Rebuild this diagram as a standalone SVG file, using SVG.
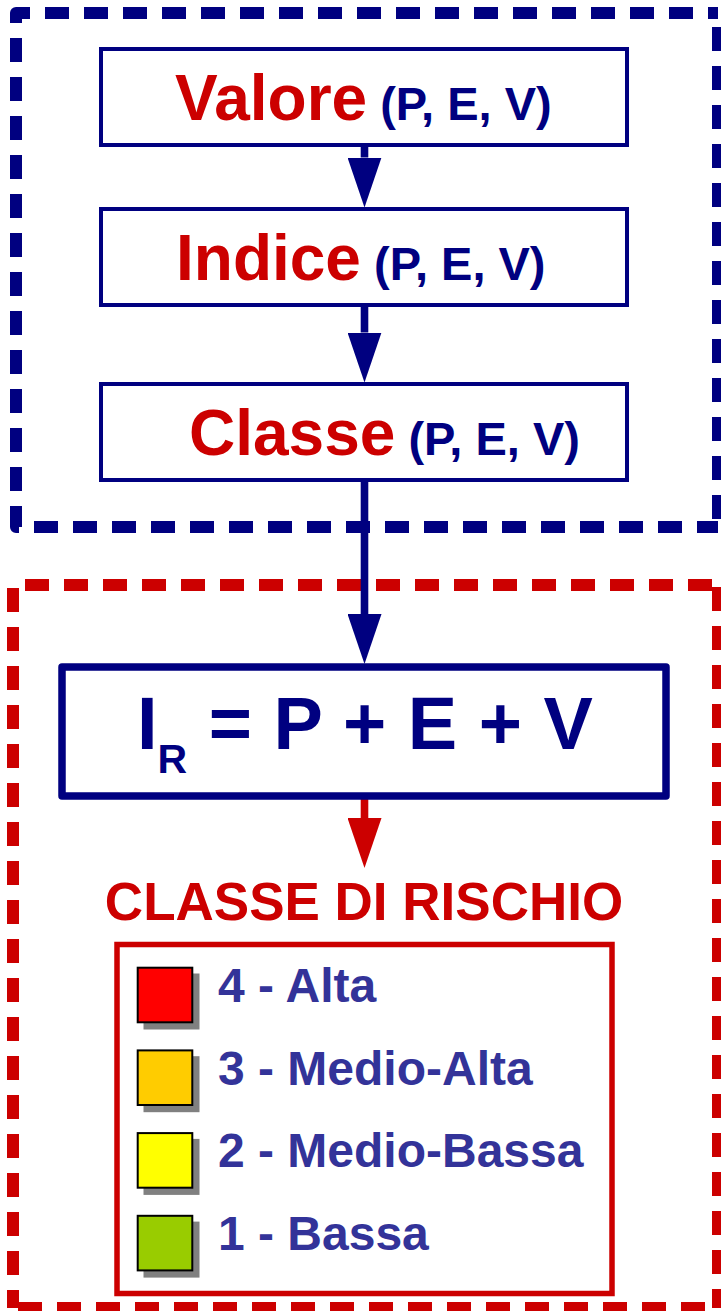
<svg xmlns="http://www.w3.org/2000/svg" width="721" height="1311" viewBox="0 0 721 1311">
  <style>
    .dash-blue { fill: none; stroke: #000080; stroke-width: 12; stroke-dasharray: 24 15; stroke-linejoin: round; }
    .dash-red { fill: none; stroke: #cc0000; stroke-width: 12; stroke-dasharray: 24 15; stroke-linejoin: round; }
    .step { fill: #ffffff; stroke: #000080; stroke-width: 4; }
    .big { font-family: "Liberation Sans", Arial, sans-serif; font-weight: bold; }
    .red { fill: #cc0000; }
    .navy { fill: #000080; }
    .legend { font-family: "Liberation Sans", Arial, sans-serif; font-weight: bold; font-size: 48px; fill: #333399; }
    .sw { stroke: #000000; stroke-width: 2; }
    .shadow { fill: #808080; }
    .shaft-blue { stroke: #000080; stroke-width: 7.6; fill: none; }
    .shaft-red { stroke: #cc0000; stroke-width: 7.6; fill: none; }
  </style>
  <defs>
    <marker id="headBlue" viewBox="0 0 50 34" refX="0" refY="17" markerWidth="50" markerHeight="34" markerUnits="userSpaceOnUse" orient="auto">
      <path d="M0,0 L50,17 L0,34 Z" fill="#000080"/>
    </marker>
    <marker id="headRed" viewBox="0 0 50 34" refX="0" refY="17" markerWidth="50" markerHeight="34" markerUnits="userSpaceOnUse" orient="auto">
      <path d="M0,0 L50,17 L0,34 Z" fill="#cc0000"/>
    </marker>
  </defs>

  <rect width="721" height="1311" fill="#ffffff"/>

  <!-- blue dashed frame -->
  <g id="frame-blue">
    <path class="dash-blue" d="M16,23 V13 H718"/>
    <path class="dash-blue" d="M718,27 V527"/>
    <path class="dash-blue" d="M34,527 H718"/>
    <path class="dash-blue" d="M16,38 V527 H20"/>
  </g>

  <!-- red dashed frame -->
  <g id="frame-red">
    <path class="dash-red" d="M25,585 H718"/>
    <path class="dash-red" d="M718,587 V1308"/>
    <path class="dash-red" d="M18,1308 H718"/>
    <path class="dash-red" d="M13,588 V1308"/>
  </g>

  <!-- connectors -->
  <g id="connectors">
    <line class="shaft-blue" x1="364.5" y1="145" x2="364.5" y2="157.5" marker-end="url(#headBlue)"/>
    <line class="shaft-blue" x1="364.5" y1="305" x2="364.5" y2="332.5" marker-end="url(#headBlue)"/>
    <line class="shaft-blue" x1="364.5" y1="480" x2="364.5" y2="614" marker-end="url(#headBlue)"/>
    <line class="shaft-red" x1="364.5" y1="799" x2="364.5" y2="818" marker-end="url(#headRed)"/>
  </g>

  <g id="node-valore">
    <rect class="step" x="101" y="49" width="526" height="96"/>
    <text class="big red" x="175" y="120" font-size="64">Valore<tspan class="navy" font-size="47"> (P, E, V)</tspan></text>
  </g>

  <g id="node-indice">
    <rect class="step" x="101" y="209" width="526" height="96"/>
    <text class="big red" x="176" y="280" font-size="64">Indice<tspan class="navy" font-size="47"> (P, E, V)</tspan></text>
  </g>

  <g id="node-classe">
    <rect class="step" x="101" y="384" width="526" height="96"/>
    <text class="big red" x="189" y="455" font-size="64">Classe<tspan class="navy" font-size="47"> (P, E, V)</tspan></text>
  </g>

  <g id="node-formula">
    <rect x="62" y="667" width="604" height="129" fill="#ffffff" stroke="#000080" stroke-width="7.5" stroke-linejoin="round"/>
    <text class="big navy" x="137" y="749" font-size="74" word-spacing="1">I<tspan font-size="41" dy="24">R</tspan><tspan dy="-24"> = P + E + V</tspan></text>
  </g>

  <g id="node-classe-rischio">
    <text class="big red" x="364" y="920" font-size="53" text-anchor="middle">CLASSE DI RISCHIO</text>
  </g>

  <g id="node-legend">
    <rect x="117" y="944.5" width="495" height="349" fill="#ffffff" stroke="#cc0000" stroke-width="5.5"/>
    <rect class="shadow" x="143.5" y="973.5" width="56" height="56"/>
    <rect class="sw" x="137.7" y="967.7" width="54.6" height="54.6" fill="#ff0000"/>
    <text class="legend" x="218" y="1002">4 - Alta</text>
    <rect class="shadow" x="143.5" y="1056.2" width="56" height="56"/>
    <rect class="sw" x="137.7" y="1050.4" width="54.6" height="54.6" fill="#ffcc00"/>
    <text class="legend" x="218" y="1084.7">3 - Medio-Alta</text>
    <rect class="shadow" x="143.5" y="1138.9" width="56" height="56"/>
    <rect class="sw" x="137.7" y="1133.1" width="54.6" height="54.6" fill="#ffff00"/>
    <text class="legend" x="218" y="1167.4">2 - Medio-Bassa</text>
    <rect class="shadow" x="143.5" y="1221.6" width="56" height="56"/>
    <rect class="sw" x="137.7" y="1215.8" width="54.6" height="54.6" fill="#99cc00"/>
    <text class="legend" x="218" y="1250">1 - Bassa</text>
  </g>
</svg>
